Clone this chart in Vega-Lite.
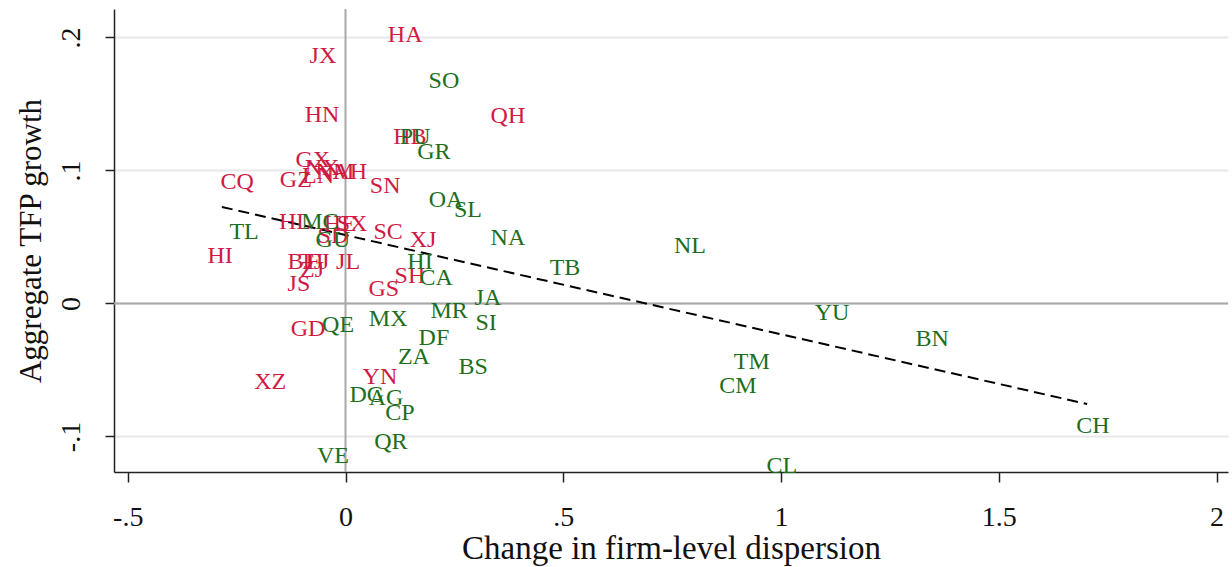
{
  "$schema": "https://vega.github.io/schema/vega-lite/v6.json",
  "width": 1114,
  "height": 463,
  "autosize": "none",
  "padding": {"left": 114, "top": 9, "right": 4, "bottom": 95},
  "background": "white",
  "config": {
    "view": {"stroke": null},
    "font": "Liberation Serif",
    "axis": {"labelFont": "Liberation Serif", "titleFont": "Liberation Serif", "labelColor": "#111", "titleColor": "#111", "titleFontWeight": "normal"}
  },
  "datasets": {
    "pts": [
      {"code": "HA", "x": 0.137, "y": 0.202, "g": "China"},
      {"code": "JX", "x": -0.052, "y": 0.186, "g": "China"},
      {"code": "HN", "x": -0.054, "y": 0.142, "g": "China"},
      {"code": "QH", "x": 0.373, "y": 0.141, "g": "China"},
      {"code": "HB", "x": 0.148, "y": 0.125, "g": "China"},
      {"code": "GX", "x": -0.075, "y": 0.108, "g": "China"},
      {"code": "NX", "x": -0.054, "y": 0.102, "g": "China"},
      {"code": "LN", "x": -0.063, "y": 0.096, "g": "China"},
      {"code": "NM", "x": -0.024, "y": 0.099, "g": "China"},
      {"code": "AH", "x": 0.010, "y": 0.099, "g": "China"},
      {"code": "CQ", "x": -0.249, "y": 0.091, "g": "China"},
      {"code": "GZ", "x": -0.114, "y": 0.093, "g": "China"},
      {"code": "SN", "x": 0.091, "y": 0.088, "g": "China"},
      {"code": "HL", "x": -0.116, "y": 0.061, "g": "China"},
      {"code": "HE", "x": -0.013, "y": 0.060, "g": "China"},
      {"code": "SX", "x": 0.015, "y": 0.060, "g": "China"},
      {"code": "SD", "x": -0.029, "y": 0.051, "g": "China"},
      {"code": "SC", "x": 0.098, "y": 0.054, "g": "China"},
      {"code": "XJ", "x": 0.178, "y": 0.048, "g": "China"},
      {"code": "HI", "x": -0.288, "y": 0.036, "g": "China"},
      {"code": "BJ", "x": -0.104, "y": 0.031, "g": "China"},
      {"code": "TJ", "x": -0.079, "y": 0.031, "g": "China"},
      {"code": "FJ", "x": -0.063, "y": 0.031, "g": "China"},
      {"code": "ZJ", "x": -0.077, "y": 0.025, "g": "China"},
      {"code": "JS", "x": -0.107, "y": 0.015, "g": "China"},
      {"code": "JL", "x": 0.006, "y": 0.031, "g": "China"},
      {"code": "SH", "x": 0.148, "y": 0.021, "g": "China"},
      {"code": "GS", "x": 0.088, "y": 0.011, "g": "China"},
      {"code": "GD", "x": -0.086, "y": -0.019, "g": "China"},
      {"code": "XZ", "x": -0.173, "y": -0.059, "g": "China"},
      {"code": "YN", "x": 0.079, "y": -0.055, "g": "China"},
      {"code": "SO", "x": 0.226, "y": 0.167, "g": "Mexico"},
      {"code": "PU", "x": 0.160, "y": 0.125, "g": "Mexico"},
      {"code": "GR", "x": 0.203, "y": 0.114, "g": "Mexico"},
      {"code": "OA", "x": 0.231, "y": 0.078, "g": "Mexico"},
      {"code": "SL", "x": 0.281, "y": 0.070, "g": "Mexico"},
      {"code": "NA", "x": 0.373, "y": 0.049, "g": "Mexico"},
      {"code": "NL", "x": 0.791, "y": 0.043, "g": "Mexico"},
      {"code": "TL", "x": -0.233, "y": 0.054, "g": "Mexico"},
      {"code": "TB", "x": 0.504, "y": 0.027, "g": "Mexico"},
      {"code": "MC", "x": -0.059, "y": 0.061, "g": "Mexico"},
      {"code": "GU", "x": -0.029, "y": 0.048, "g": "Mexico"},
      {"code": "HI", "x": 0.171, "y": 0.031, "g": "Mexico"},
      {"code": "CA", "x": 0.208, "y": 0.019, "g": "Mexico"},
      {"code": "JA", "x": 0.327, "y": 0.004, "g": "Mexico"},
      {"code": "MR", "x": 0.238, "y": -0.006, "g": "Mexico"},
      {"code": "SI", "x": 0.323, "y": -0.015, "g": "Mexico"},
      {"code": "MX", "x": 0.098, "y": -0.012, "g": "Mexico"},
      {"code": "QE", "x": -0.017, "y": -0.016, "g": "Mexico"},
      {"code": "DF", "x": 0.203, "y": -0.026, "g": "Mexico"},
      {"code": "ZA", "x": 0.157, "y": -0.040, "g": "Mexico"},
      {"code": "BS", "x": 0.293, "y": -0.048, "g": "Mexico"},
      {"code": "YU", "x": 1.117, "y": -0.007, "g": "Mexico"},
      {"code": "BN", "x": 1.347, "y": -0.027, "g": "Mexico"},
      {"code": "TM", "x": 0.933, "y": -0.044, "g": "Mexico"},
      {"code": "CM", "x": 0.901, "y": -0.062, "g": "Mexico"},
      {"code": "CH", "x": 1.716, "y": -0.092, "g": "Mexico"},
      {"code": "CL", "x": 1.002, "y": -0.122, "g": "Mexico"},
      {"code": "DG", "x": 0.049, "y": -0.069, "g": "Mexico"},
      {"code": "AG", "x": 0.093, "y": -0.071, "g": "Mexico"},
      {"code": "CP", "x": 0.125, "y": -0.082, "g": "Mexico"},
      {"code": "QR", "x": 0.104, "y": -0.104, "g": "Mexico"},
      {"code": "VE", "x": -0.029, "y": -0.115, "g": "Mexico"}
    ],
    "fit": [
      {"x": -0.284, "y": 0.0726},
      {"x": 1.703, "y": -0.0756}
    ],
    "ref0": [{"v": 0}]
  },
  "layer": [
    {
      "data": {"name": "ref0"},
      "mark": {"type": "rule", "color": "#a8a8a8", "strokeWidth": 2},
      "encoding": {
        "y": {"field": "v", "type": "quantitative", "scale": {"domain": [-0.1267, 0.2214], "nice": false, "zero": false},
          "axis": {"title": "Aggregate TFP growth", "values": [-0.1, 0, 0.1, 0.2], "grid": true, "gridColor": "#e8e8e8", "gridWidth": 2,
            "labelExpr": "datum.value == 0.2 ? '.2' : datum.value == 0.1 ? '.1' : datum.value == -0.1 ? '-.1' : '0'",
            "labelAngle": -90, "labelFontSize": 28, "titleFontSize": 31, "tickSize": 9, "tickColor": "#222", "tickWidth": 1.5,
            "domainColor": "#222", "domainWidth": 1.5, "labelPadding": 34, "titlePadding": 10, "labelBaseline": "middle", "labelAlign": "center"}}
      }
    },
    {
      "data": {"name": "ref0"},
      "mark": {"type": "rule", "color": "#a8a8a8", "strokeWidth": 2},
      "encoding": {
        "x": {"field": "v", "type": "quantitative", "scale": {"domain": [-0.5316, 2.0264], "nice": false, "zero": false},
          "axis": {"title": "Change in firm-level dispersion", "values": [-0.5, 0, 0.5, 1, 1.5, 2], "grid": false,
            "labelExpr": "datum.value == 0.5 ? '.5' : datum.value == -0.5 ? '-.5' : datum.value + ''",
            "labelFontSize": 28, "titleFontSize": 33, "tickSize": 10, "tickColor": "#222", "tickWidth": 1.5,
            "domainColor": "#222", "domainWidth": 1.5, "labelPadding": 21, "titlePadding": 1}}
      }
    },
    {
      "data": {"name": "fit"},
      "mark": {"type": "line", "color": "#000", "strokeWidth": 2, "strokeDash": [11, 6]},
      "encoding": {
        "x": {"field": "x", "type": "quantitative"},
        "y": {"field": "y", "type": "quantitative"}
      }
    },
    {
      "data": {"name": "pts"},
      "mark": {"type": "text", "font": "Liberation Serif", "fontSize": 24, "align": "center", "baseline": "middle"},
      "encoding": {
        "x": {"field": "x", "type": "quantitative"},
        "y": {"field": "y", "type": "quantitative"},
        "text": {"field": "code"},
        "color": {"field": "g", "type": "nominal", "scale": {"domain": ["China", "Mexico"], "range": ["#d01a44", "#1e6e1e"]}, "legend": null}
      }
    }
  ]
}
